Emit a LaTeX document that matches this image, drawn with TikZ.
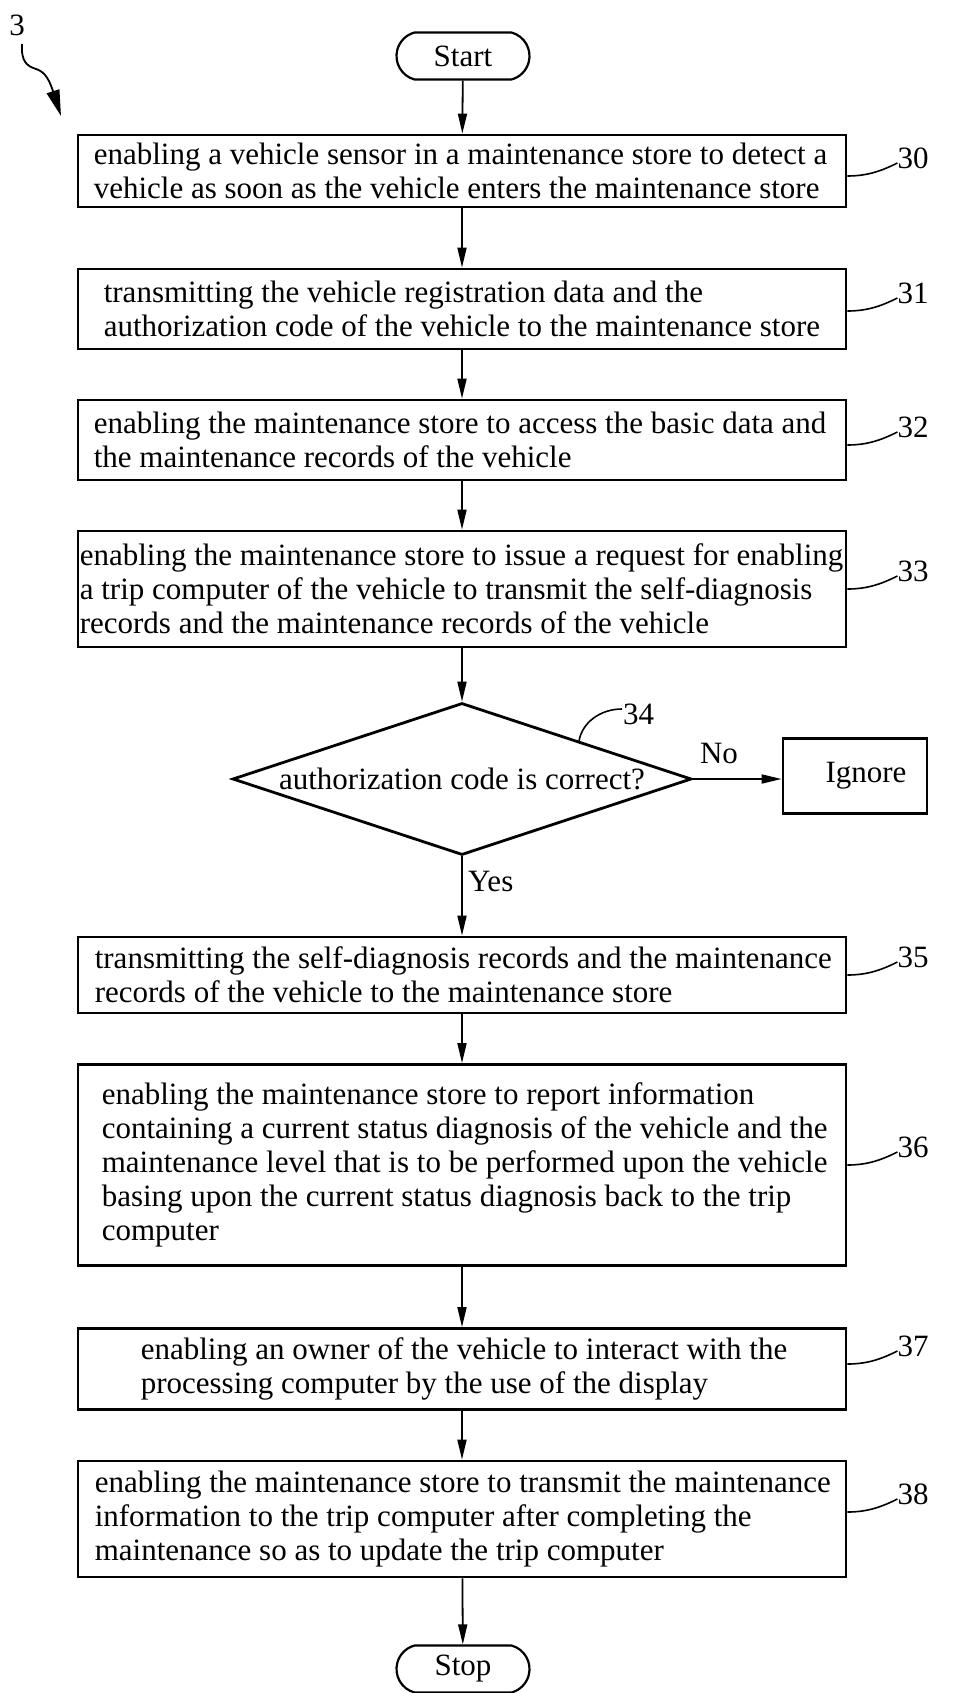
\documentclass[tikz,border=0pt]{standalone}
\usepackage{fontspec}
\setmainfont{Liberation Serif}
\usetikzlibrary{shapes.geometric,shapes.misc,arrows.meta,calc}
\begin{document}
\begin{tikzpicture}[x=1pt,y=-1pt,
  txtfont/.style={font=\fontsize{31}{34}\selectfont},
  stepbox/.style={draw,line width=2.8pt,minimum width=768pt,inner sep=0pt},
  steptext/.style={txtfont,align=left,inner sep=0pt,anchor=west},
  term/.style={draw,line width=2.2pt,rounded rectangle,rounded rectangle arc length=150,minimum width=133pt,minimum height=47pt,inner sep=0pt,txtfont},
  dec/.style={draw,line width=2.8pt,diamond,aspect=3.02,minimum width=459pt,minimum height=152pt,inner sep=0pt,txtfont},
  flow/.style={line width=1.8pt,-{Triangle[length=20pt,width=9pt]}},
  leader/.style={line width=1.6pt},
  num/.style={txtfont,inner sep=0pt,anchor=west}
]
\useasboundingbox (0,0) rectangle (959,1693);

% figure number
\node[txtfont,inner sep=0pt] (fig) at (17,25) {3};
\coordinate (figs) at (22,44);
\coordinate (fige) at (61,116);
\draw[line width=1.8pt,-{Triangle[length=26pt,width=13pt]}] (figs) .. controls (21,62) and (27,66) .. (36,69) .. controls (46,72) and (50,82) .. (fige);

% nodes
\node[term] (start) at (463,56) {Start};
\node[stepbox,minimum height=72pt] (b30) at (462,171) {};
\node[steptext] (t30) at ([xshift=17pt]b30.west) {enabling a vehicle sensor in a maintenance store to detect a\\vehicle as soon as the vehicle enters the maintenance store};
\node[stepbox,minimum height=80pt] (b31) at (462,309) {};
\node[steptext] (t31) at ([xshift=27pt]b31.west) {transmitting the vehicle registration data and the\\authorization code of the vehicle to the maintenance store};
\node[stepbox,minimum height=80pt] (b32) at (462,440) {};
\node[steptext] (t32) at ([xshift=17pt]b32.west) {enabling the maintenance store to access the basic data and\\the maintenance records of the vehicle};
\node[stepbox,minimum height=116pt] (b33) at (462,589) {};
\node[steptext] (t33) at ([xshift=3pt]b33.west) {enabling the maintenance store to issue a request for enabling\\a trip computer of the vehicle to transmit the self-diagnosis\\records and the maintenance records of the vehicle};
\node[dec] (d34) at (462,779) {authorization code is correct?};
\node[draw,line width=2.8pt,minimum width=144pt,minimum height=75pt,inner sep=0pt,txtfont] (ign) at (855,776) {\hspace*{22pt}Ignore};
\node[stepbox,minimum height=76pt] (b35) at (462,975) {};
\node[steptext] (t35) at ([xshift=18pt]b35.west) {transmitting the self-diagnosis records and the maintenance\\records of the vehicle to the maintenance store};
\node[stepbox,minimum height=201pt] (b36) at (462,1165) {};
\node[steptext] (t36) at ([xshift=25pt]b36.west) {enabling the maintenance store to report information\\containing a current status diagnosis of the vehicle and the\\maintenance level that is to be performed upon the vehicle\\basing upon the current status diagnosis back to the trip\\computer};
\node[stepbox,minimum height=81pt] (b37) at (462,1369) {};
\node[steptext] (t37) at ([xshift=64pt]b37.west) {enabling an owner of the vehicle to interact with the\\processing computer by the use of the display};
\node[stepbox,minimum height=116pt] (b38) at (462,1519) {};
\node[steptext] (t38) at ([xshift=18pt]b38.west) {enabling the maintenance store to transmit the maintenance\\information to the trip computer after completing the\\maintenance so as to update the trip computer};
\node[term] (stop) at (463,1669) {Stop};

% connectors
\draw[flow] (start) -- (b30);
\draw[flow] (b30) -- (b31);
\draw[flow] (b31) -- (b32);
\draw[flow] (b32) -- (b33);
\draw[flow] (b33) -- (d34);
\draw[flow] (d34.east) -- (d34.east -| ign.west);
\draw[flow] (d34) -- (b35);
\draw[flow] (b35) -- (b36);
\draw[flow] (b36) -- (b37);
\draw[flow] (b37) -- (b38);
\draw[flow] (b38) -- (stop);
\node[txtfont,inner sep=0pt] (no) at (719,753) {No};
\node[txtfont,inner sep=0pt,anchor=west] (yes) at (468,881) {Yes};

% reference numerals
\foreach \b/\n/\dy in {b30/30/5,b31/31/2,b32/32/5,b33/33/0,b35/35/0,b36/36/0,b37/37/-5,b38/38/-7}{
  \coordinate (s\n) at ([yshift=-\dy pt]\b.east);
  \coordinate (e\n) at ([xshift=50pt,yshift=13pt]s\n);
  \draw[leader] (s\n) .. controls ([xshift=20pt]s\n) and ([xshift=34pt,yshift=5pt]s\n) .. (e\n);
  \node[num] (l\n) at ([xshift=0pt,yshift=5pt]e\n) {\n};
}
\coordinate (s34) at ($(d34.north)!0.507!(d34.east)$);
\coordinate (e34) at (622,709);
\draw[leader] (s34) .. controls ([xshift=3pt,yshift=18pt]s34) and ([xshift=-22pt]e34) .. (e34);
\node[num] (l34) at ([xshift=1pt,yshift=-5pt]e34) {34};
\end{tikzpicture}
\end{document}
